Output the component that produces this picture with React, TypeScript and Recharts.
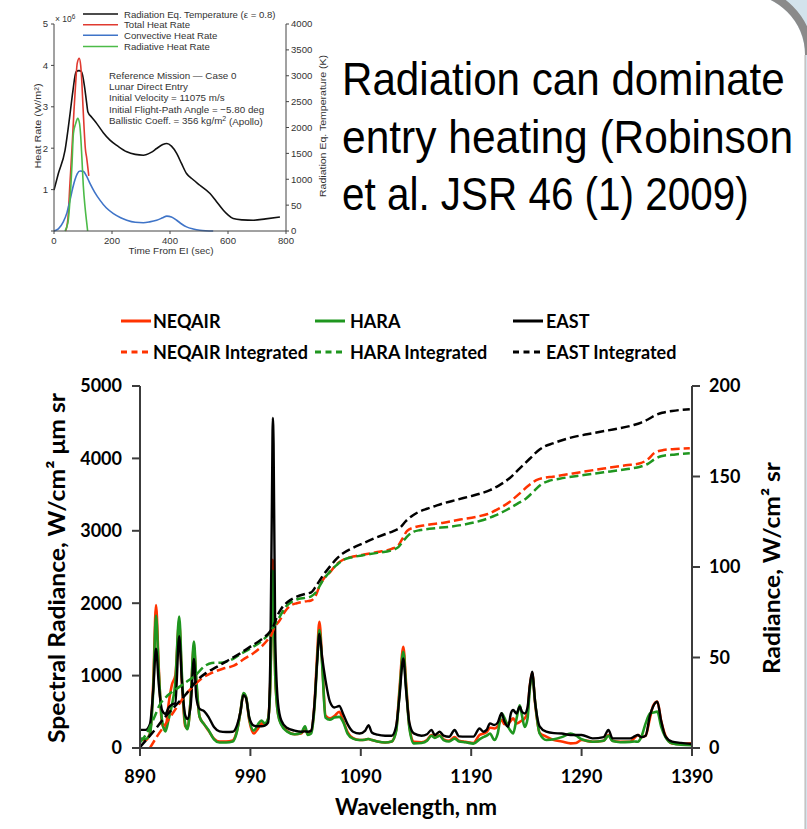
import React from 'react';
import { ComposedChart, Line, XAxis, YAxis, Legend, Label } from 'recharts';

// ---------- Main chart: spectral radiance (left axis) ----------
const wavelengths = [
  890, 895, 899, 902, 904.5, 907, 910, 913, 916, 919, 922, 925.5, 928, 931, 933, 936, 938.8, 941, 944, 948,
  952, 957, 962, 968, 974, 978, 981, 983.6, 986, 989, 993, 997, 1000, 1003, 1006, 1008, 1009.5, 1010.3, 1011, 1012.5,
  1015, 1018, 1023, 1030, 1036, 1039.5, 1042, 1045, 1048, 1050.5, 1052.5, 1055, 1058, 1062, 1066, 1070.5, 1074, 1078, 1083, 1089,
  1094, 1097, 1100, 1105, 1112, 1118, 1122, 1125, 1128.5, 1131, 1134, 1138, 1145, 1150, 1154, 1157, 1161.5, 1165, 1170, 1175,
  1179, 1185, 1192, 1197.5, 1201, 1204, 1207, 1211, 1214, 1217.5, 1220, 1223.5, 1226, 1228, 1231, 1234, 1236, 1238.5, 1241, 1243,
  1245.2, 1248, 1252, 1258, 1265, 1272, 1280, 1285, 1290, 1300, 1310, 1314.3, 1318, 1325, 1334, 1338, 1341, 1344, 1348, 1352,
  1355, 1358.6, 1362, 1366, 1372, 1380, 1390,
];
const neqairSpectral = [
  110, 110, 200, 900, 1975, 1100, 330, 260, 620, 880, 1000, 1740, 900, 300, 270, 700, 1400, 900, 430, 330,
  240, 130, 90, 90, 105, 250, 500, 750, 700, 380, 200, 270, 340, 320, 400, 900, 2000, 2600, 2100, 1000,
  480, 330, 240, 190, 200, 260, 190, 220, 600, 1300, 1744, 1200, 450, 410, 440, 500, 380, 220, 135, 110,
  115, 125, 110, 90, 75, 90, 250, 800, 1399, 900, 300, 87, 80, 110, 180, 150, 175, 120, 100, 150,
  100, 85, 70, 180, 200, 220, 280, 270, 300, 390, 330, 340, 380, 410, 340, 360, 380, 410, 500, 850,
  1040, 600, 210, 157, 110, 90, 64, 70, 110, 87, 100, 180, 100, 87, 87, 140, 180, 150, 170, 420,
  590, 640, 380, 170, 64, 55, 64,
];
const haraSpectral = [
  130, 125, 190, 800, 1830, 1050, 380, 230, 400, 600, 900, 1815, 1000, 330, 260, 700, 1470, 950, 430, 330,
  250, 120, 75, 75, 90, 240, 500, 760, 710, 400, 240, 330, 380, 340, 400, 850, 1900, 2450, 2000, 1000,
  470, 320, 230, 190, 210, 300, 180, 200, 550, 1200, 1630, 1150, 420, 390, 420, 430, 360, 200, 130, 110,
  115, 125, 110, 90, 75, 90, 230, 750, 1330, 850, 280, 64, 70, 100, 170, 140, 170, 110, 90, 130,
  90, 80, 60, 120, 150, 170, 200, 110, 200, 480, 420, 290, 230, 200, 400, 590, 450, 290, 400, 800,
  1010, 620, 200, 110, 120, 150, 200, 170, 120, 87, 100, 170, 95, 80, 85, 90, 87, 150, 340, 478,
  490, 502, 300, 150, 64, 45, 40,
];
const eastSpectral = [
  250, 250, 330, 800, 1370, 880, 520, 470, 560, 600, 620, 1545, 900, 450, 400, 600, 1230, 700, 540, 510,
  430, 290, 230, 220, 225, 320, 500, 730, 690, 420, 310, 300, 300, 310, 350, 1200, 3400, 4560, 4200, 1500,
  620, 380, 280, 240, 225, 230, 225, 240, 600, 1200, 1580, 1250, 940, 640, 560, 580, 470, 330, 225, 200,
  240, 315, 215, 185, 170, 170, 300, 700, 1237, 800, 350, 202, 170, 190, 250, 180, 225, 170, 155, 248,
  160, 157, 157, 270, 225, 250, 340, 317, 350, 480, 370, 294, 480, 524, 477, 570, 500, 477, 560, 850,
  1054, 620, 300, 225, 205, 200, 180, 180, 180, 133, 150, 248, 133, 133, 133, 160, 180, 150, 170, 455,
  580, 640, 380, 160, 87, 70, 55,
];

// ---------- Main chart: integrated radiance (right axis) ----------
const neqairIntWl = [
  899, 905, 914, 925, 932, 938, 945, 955, 965, 975, 985, 993, 1000, 1006, 1009, 1012, 1016, 1022, 1026, 1032,
  1040, 1045, 1049, 1053, 1057, 1062, 1068, 1074, 1083, 1092, 1105, 1118, 1124, 1128, 1132, 1138, 1150, 1165, 1180, 1195,
  1205, 1215, 1225, 1234, 1242, 1249, 1256, 1264, 1278, 1292, 1310, 1330, 1343, 1350, 1356, 1364, 1375, 1388,
];
const neqairInt = [
  0, 6, 14, 24, 30, 34, 38, 41.5, 43.8, 45.5, 49.5, 52.5, 56, 60, 62.5, 67, 70, 76, 78.5, 80,
  81, 81.5, 84, 90, 94, 97, 101.5, 104, 105.8, 106.8, 108.3, 110, 112, 116, 120, 121.8, 123.2, 124.5, 126.2, 127.8,
  129.3, 132.3, 136, 140.7, 145, 148, 149.3, 149.9, 151.3, 152.7, 154.4, 156.2, 157.3, 159.5, 163, 164.6, 165.2, 165.6,
];
const haraIntWl = [
  890, 896, 903, 908, 915, 925, 932, 940, 948, 955, 965, 972, 980, 990, 1000, 1008, 1012, 1016, 1022, 1028,
  1034, 1040, 1045, 1050, 1055, 1060, 1068, 1074, 1083, 1092, 1105, 1118, 1124, 1128, 1133, 1138, 1144, 1155, 1171, 1185,
  1201, 1212, 1222, 1232, 1240, 1247, 1253, 1260, 1270, 1292, 1310, 1330, 1343, 1350, 1356, 1362, 1375, 1388,
];
const haraInt = [
  3, 8, 17, 24, 29, 33.5, 36.5, 40, 45, 47, 47.3, 48.5, 51.5, 55, 59, 64, 68, 72, 78, 81,
  82.5, 83, 83.8, 86.5, 92, 96, 101, 103.9, 105.5, 106.5, 107.8, 109.3, 111, 114, 117.5, 119.5, 120.4, 121.3, 122.3, 123.6,
  126, 128.5, 131.5, 135, 138, 142, 145.5, 147.5, 148.8, 150.8, 152.3, 154, 155.4, 157, 159.5, 161.2, 162.2, 162.8,
];
const eastIntWl = [
  890, 900, 914, 923, 932, 941, 950, 960, 970, 980, 990, 1000, 1008, 1011, 1014, 1018, 1024, 1032, 1040, 1045,
  1050, 1056, 1062, 1068, 1074, 1083, 1092, 1101, 1110, 1120, 1126, 1131, 1137, 1143, 1150, 1156, 1165, 1176, 1188, 1198,
  1207, 1215, 1225, 1234, 1243, 1250, 1257, 1264, 1273, 1283, 1295, 1307, 1322, 1337, 1344, 1350, 1356, 1363, 1372, 1388,
];
const eastInt = [
  0.5, 7.5, 18, 24, 30, 37, 41.5, 45, 48.5, 52, 56, 60, 64.5, 67.5, 72.5, 77, 80.8, 83.6, 85.2, 86,
  90, 95.5, 100.2, 104.5, 107.6, 110.6, 113.1, 115.5, 117.7, 120, 122, 125.5, 128.5, 130.6, 132.2, 133.4, 135.2, 137, 138.9, 140.5,
  142.5, 145, 149.2, 154.5, 159.8, 164, 166.8, 168.3, 170.2, 171.9, 173.3, 174.7, 176.4, 178.4, 179.8, 181.5, 183.6, 185.2, 186.2, 187.2,
];

const wlTicks = [890, 990, 1090, 1190, 1290, 1390];
const spectralTicks = [0, 1000, 2000, 3000, 4000, 5000];
const radianceTicks = [0, 50, 100, 150, 200];
const mainSeriesNames = ['NEQAIR', 'HARA', 'EAST', 'NEQAIR Integrated', 'HARA Integrated', 'EAST Integrated'];

// ---------- Inset: heat rate history ----------
const tempTime = [0, 15, 38, 55, 65, 76, 86, 95, 105, 112, 117, 130, 147, 170, 193, 220, 251, 280, 308, 335, 354, 375, 389, 405, 423, 440, 457, 480, 503, 538, 560, 584, 600, 618, 650, 687, 730, 779];
const tempK = [790, 1110, 1560, 2250, 2700, 3077, 3100, 3077, 2800, 2500, 2300, 2200, 2080, 1900, 1755, 1640, 1530, 1480, 1465, 1520, 1594, 1670, 1691, 1640, 1500, 1300, 1110, 990, 884, 724, 570, 401, 310, 240, 215, 207, 235, 271];
const totalTime = [40, 48, 55, 62, 69, 75, 80, 87, 92, 96, 100, 104, 108, 113, 120];
const totalRate = [0, 0.3, 1.15, 2.0, 2.92, 3.6, 4.05, 4.17, 4.0, 3.6, 3.0, 2.45, 2.0, 1.75, 1.33];
const convTime = [0, 15, 32, 45, 55, 65, 72, 80, 90, 101, 112, 124, 140, 159, 180, 205, 230, 251, 280, 308, 330, 354, 375, 389, 405, 423, 440, 457, 480, 503, 549];
const convRate = [0, 0.05, 0.22, 0.45, 0.74, 1.05, 1.23, 1.38, 1.45, 1.44, 1.33, 1.15, 0.94, 0.74, 0.56, 0.42, 0.32, 0.26, 0.21, 0.2, 0.22, 0.26, 0.32, 0.36, 0.34, 0.26, 0.17, 0.1, 0.05, 0.02, 0];
const radTime = [38, 48, 55, 62, 67, 75, 82, 88, 92, 96, 101, 107, 112, 116];
const radRate = [0, 0.2, 0.74, 1.6, 2.36, 2.6, 2.72, 2.6, 2.3, 1.79, 1.1, 0.58, 0.25, 0];

const timeTicks = [0, 200, 400, 600, 800];
const heatTicks = [0, 1, 2, 3, 4, 5];
const heatTickLabels = ['', '1', '2', '3', '4', '5'];
const tempTicks = [0, 500, 1000, 1500, 2000, 2500, 3000, 3500, 4000];
const tempTickLabels = ['0', '50', '1000', '1500', '2000', '2500', '3000', '3500', '4000'];
const insetSeriesNames = ['Radiation Eq. Temperature (\u03b5 = 0.8)', 'Total Heat Rate', 'Convective Heat Rate', 'Radiative Heat Rate'];

const missionNotes = [
  'Reference Mission \u2014 Case 0',
  'Lunar Direct Entry',
  'Initial Velocity = 11075 m/s',
  'Initial Flight-Path Angle = \u22125.80 deg',
];

const titleLines = ['Radiation can dominate', 'entry heating (Robinson', 'et al. JSR 46 (1) 2009)'];
// horizontal condensing of each headline line (narrow typeface look)
const titleCondense = [0.897, 0.904, 0.86];

// ---------- build rows ----------
const spectralRows = wavelengths.map((w, i) => ({ w, neqair: neqairSpectral[i], hara: haraSpectral[i], east: eastSpectral[i] }));
const pairRows = (xs: number[], ys: number[], xKey: string) => xs.map((x, i) => ({ [xKey]: x, v: ys[i] }));
const neqairIntRows = pairRows(neqairIntWl, neqairInt, 'w');
const haraIntRows = pairRows(haraIntWl, haraInt, 'w');
const eastIntRows = pairRows(eastIntWl, eastInt, 'w');
const tempRows = pairRows(tempTime, tempK, 't');
const totalRows = pairRows(totalTime, totalRate, 't');
const convRows = pairRows(convTime, convRate, 't');
const radRows = pairRows(radTime, radRate, 't');

const RED = '#ff3300';
const GREEN = '#1f961f';
const BLACK = '#000000';
const MAIN_FONT = 'Lato, "Open Sans", sans-serif';
const INSET_FONT = '"Liberation Sans", Arial, Helvetica, sans-serif';
const AXIS_GRAY = '#3c3c3c';

const axisTitle = (text: string, x: number, y: number, rotate: boolean, size: number, length: number, font: string, weight: number, fill: string) => () => (
  <text
    x={x}
    y={y}
    transform={rotate ? `rotate(-90 ${x} ${y})` : undefined}
    textAnchor="middle"
    dominantBaseline="central"
    fontFamily={font}
    fontWeight={weight}
    fontSize={size}
    fill={fill}
    textLength={length}
    lengthAdjust="spacingAndGlyphs"
  >
    {text}
  </text>
);

// legend layout for the main chart (three columns, two rows)
const legendSwatchX = [121, 315, 513];
const legendTextX = [153, 350, 546];
const legendRowY = [31, 62];

const MainLegend = (props: any) => {
  const items = props.payload || [];
  return (
    <div style={{ position: 'relative', width: 807, height: 90 }}>
      {items.map((it: any) => {
        const idx = mainSeriesNames.indexOf(it.value);
        if (idx < 0) return null;
        const col = idx % 3;
        const row = Math.floor(idx / 3);
        const dashed = row === 1;
        const y = legendRowY[row];
        return (
          <React.Fragment key={it.value}>
            <svg style={{ position: 'absolute', left: legendSwatchX[col], top: y - 3 }} width={30} height={6}>
              <line x1={0} y1={3} x2={dashed ? 27 : 30} y2={3} stroke={it.color} strokeWidth={3} strokeDasharray={dashed ? '6 4.5' : undefined} />
            </svg>
            <div
              style={{
                position: 'absolute',
                left: legendTextX[col],
                top: y - 12,
                height: 24,
                lineHeight: '24px',
                fontFamily: MAIN_FONT,
                fontWeight: 700,
                fontSize: 18,
                color: '#000',
                whiteSpace: 'nowrap',
              }}
            >
              {it.value}
            </div>
          </React.Fragment>
        );
      })}
    </div>
  );
};

const insetLegendY = [14, 24.7, 35.3, 46.4];
const InsetLegend = (props: any) => {
  const items = props.payload || [];
  return (
    <svg width={340} height={60} style={{ position: 'absolute', left: 0, top: 0 }}>
      {items.map((it: any) => {
        const idx = insetSeriesNames.indexOf(it.value);
        if (idx < 0) return null;
        return (
          <g key={it.value}>
            <line x1={83} x2={118} y1={insetLegendY[idx]} y2={insetLegendY[idx]} stroke={it.color} strokeWidth={1.5} />
            <text x={124} y={insetLegendY[idx]} dominantBaseline="central" fontFamily={INSET_FONT} fontSize={9.6} fill="#333">
              {it.value}
            </text>
          </g>
        );
      })}
    </svg>
  );
};

const MainChart = () => {
  const tickStyle = { fill: '#000', fontSize: 18, fontWeight: 700, fontFamily: MAIN_FONT };
  return (
    <ComposedChart
      width={807}
      height={539}
      data={spectralRows}
      margin={{ top: 96, right: 55, bottom: 21, left: 80 }}
    >
      <XAxis
        dataKey="w"
        type="number"
        domain={[890, 1390]}
        ticks={wlTicks}
        height={60}
        tick={tickStyle}
        tickSize={8}
        tickMargin={14}
        axisLine={{ stroke: AXIS_GRAY, strokeWidth: 2 }}
        tickLine={{ stroke: AXIS_GRAY, strokeWidth: 2 }}
      >
        <Label content={axisTitle('Wavelength, nm', 416, 516, false, 23, 162, MAIN_FONT, 700, '#000')} />
      </XAxis>
      <YAxis
        yAxisId="left"
        orientation="left"
        domain={[0, 5000]}
        ticks={spectralTicks}
        width={60}
        tick={tickStyle}
        tickSize={8}
        tickMargin={10}
        axisLine={{ stroke: AXIS_GRAY, strokeWidth: 2 }}
        tickLine={{ stroke: AXIS_GRAY, strokeWidth: 2 }}
      >
        <Label content={axisTitle('Spectral Radiance, W/cm\u00b2 \u03bcm sr', 56, 278, true, 23, 350, MAIN_FONT, 700, '#000')} />
      </YAxis>
      <YAxis
        yAxisId="right"
        orientation="right"
        domain={[0, 200]}
        ticks={radianceTicks}
        width={60}
        tick={tickStyle}
        tickSize={8}
        tickMargin={9}
        axisLine={{ stroke: AXIS_GRAY, strokeWidth: 2 }}
        tickLine={{ stroke: AXIS_GRAY, strokeWidth: 2 }}
      >
        <Label content={axisTitle('Radiance, W/cm\u00b2 sr', 771, 278, true, 23, 212, MAIN_FONT, 700, '#000')} />
      </YAxis>
      <Legend
        content={<MainLegend />}
        layout="horizontal"
        verticalAlign="middle"
        align="center"
        wrapperStyle={{ left: 0, top: 0, width: 807, height: 90 }}
      />
      <Line yAxisId="left" name={mainSeriesNames[0]} dataKey="neqair" type="monotone" stroke={RED} strokeWidth={2.6} dot={false} isAnimationActive={false} />
      <Line yAxisId="left" name={mainSeriesNames[1]} dataKey="hara" type="monotone" stroke={GREEN} strokeWidth={2.6} dot={false} isAnimationActive={false} />
      <Line yAxisId="left" name={mainSeriesNames[2]} dataKey="east" type="monotone" stroke={BLACK} strokeWidth={2.4} dot={false} isAnimationActive={false} />
      <Line yAxisId="right" name={mainSeriesNames[3]} data={neqairIntRows} dataKey="v" type="monotone" stroke={RED} strokeWidth={2.5} strokeDasharray="9 4" dot={false} isAnimationActive={false} />
      <Line yAxisId="right" name={mainSeriesNames[4]} data={haraIntRows} dataKey="v" type="monotone" stroke={GREEN} strokeWidth={2.5} strokeDasharray="9 4" dot={false} isAnimationActive={false} />
      <Line yAxisId="right" name={mainSeriesNames[5]} data={eastIntRows} dataKey="v" type="monotone" stroke={BLACK} strokeWidth={2.5} strokeDasharray="9 4" dot={false} isAnimationActive={false} />
    </ComposedChart>
  );
};

const InsetChart = () => {
  const tickStyle = { fill: '#333', fontSize: 9.6, fontFamily: INSET_FONT };
  const axisStyle = { stroke: '#444', strokeWidth: 1 };
  return (
    <ComposedChart width={340} height={262} margin={{ top: 24, right: 24, bottom: 11, left: 34 }}>
      <XAxis
        dataKey="t"
        type="number"
        domain={[0, 800]}
        ticks={timeTicks}
        height={20}
        tick={tickStyle}
        tickSize={3}
        tickMargin={3}
        axisLine={axisStyle}
        tickLine={axisStyle}
      >
        <Label content={axisTitle('Time From EI (sec)', 171, 250, false, 9.8, 85, INSET_FONT, 400, '#333')} />
      </XAxis>
      <YAxis
        yAxisId="heat"
        orientation="left"
        domain={[0, 5]}
        ticks={heatTicks}
        tickFormatter={(v: number) => heatTickLabels[heatTicks.indexOf(v)]}
        width={20}
        tick={tickStyle}
        tickSize={3}
        tickMargin={3}
        axisLine={axisStyle}
        tickLine={axisStyle}
      >
        <Label content={axisTitle('Heat Rate (W/m\u00b2)', 37, 126, true, 9.8, 85, INSET_FONT, 400, '#333')} />
      </YAxis>
      <YAxis
        yAxisId="temp"
        orientation="right"
        domain={[0, 4000]}
        ticks={tempTicks}
        tickFormatter={(v: number) => tempTickLabels[tempTicks.indexOf(v)]}
        width={30}
        tick={tickStyle}
        tickSize={3}
        tickMargin={2}
        axisLine={axisStyle}
        tickLine={axisStyle}
      >
        <Label content={axisTitle('Radiation Eq. Temperature (K)', 322, 126, true, 9.8, 142, INSET_FONT, 400, '#333')} />
      </YAxis>
      <Legend
        content={<InsetLegend />}
        layout="horizontal"
        verticalAlign="middle"
        align="center"
        wrapperStyle={{ left: 0, top: 0, width: 340, height: 60 }}
      />
      <Line yAxisId="temp" name={insetSeriesNames[0]} data={tempRows} dataKey="v" type="monotone" stroke="#111" strokeWidth={1.6} dot={false} isAnimationActive={false} />
      <Line yAxisId="heat" name={insetSeriesNames[1]} data={totalRows} dataKey="v" type="monotone" stroke="#e03a30" strokeWidth={1.6} dot={false} isAnimationActive={false} />
      <Line yAxisId="heat" name={insetSeriesNames[2]} data={convRows} dataKey="v" type="monotone" stroke="#3f74c8" strokeWidth={1.6} dot={false} isAnimationActive={false} />
      <Line yAxisId="heat" name={insetSeriesNames[3]} data={radRows} dataKey="v" type="monotone" stroke="#4cbb48" strokeWidth={1.6} dot={false} isAnimationActive={false} />
    </ComposedChart>
  );
};

export default function App() {
  return (
    <div style={{ position: 'absolute', left: 0, top: 0, width: 807, height: 829, overflow: 'hidden', background: '#fff' }}>
      {/* slide frame corner */}
      <svg width={807} height={829} style={{ position: 'absolute', left: 0, top: 0 }}>
        <rect x={700} y={0} width={107} height={829} fill="#d3e3ec" />
        <path d="M -10 -6 H 744 A 61 61 0 0 1 805 55 V 840 H -10 Z" fill="#fff" />
        <path d="M 744 -10 A 65 65 0 0 1 809 55" fill="none" stroke="#8a8a8a" strokeWidth={8} />
        <line x1={805.2} y1={55} x2={805.2} y2={829} stroke="#c4c4c4" strokeWidth={1.6} />
      </svg>

      <div style={{ position: 'absolute', left: 0, top: 290 }}>
        <MainChart />
      </div>

      <div style={{ position: 'absolute', left: 0, top: 0 }}>
        <InsetChart />
        <svg width={340} height={262} style={{ position: 'absolute', left: 0, top: 0, pointerEvents: 'none' }}>
          <text x={55} y={22} fontFamily={INSET_FONT} fontSize={8.5} fill="#333">
            {'\u00d7 10'}
            <tspan dy={-3} fontSize={6.5}>6</tspan>
          </text>
          {missionNotes.map((s, i) => (
            <text key={i} x={109} y={75 + i * 11.4} dominantBaseline="central" fontFamily={INSET_FONT} fontSize={9.8} fill="#333">
              {s}
            </text>
          ))}
          <text x={109} y={75 + 4 * 11.4} dominantBaseline="central" fontFamily={INSET_FONT} fontSize={9.8} fill="#333">
            {'Ballistic Coeff. = 356 kg/m'}
            <tspan dy={-3} fontSize={7}>2</tspan>
            <tspan dy={3}>{' (Apollo)'}</tspan>
          </text>
        </svg>
      </div>

      <svg width={807} height={230} style={{ position: 'absolute', left: 0, top: 0, pointerEvents: 'none' }}>
        {titleLines.map((s, i) => (
          <text
            key={i}
            x={0}
            y={0}
            transform={`translate(342 ${95 + i * 57.5}) scale(${titleCondense[i]} 1)`}
            fontFamily='"Liberation Sans Narrow", "Liberation Sans", Arial, sans-serif'
            fontSize={47}
            fill="#000"
          >
            {s}
          </text>
        ))}
      </svg>
    </div>
  );
}
